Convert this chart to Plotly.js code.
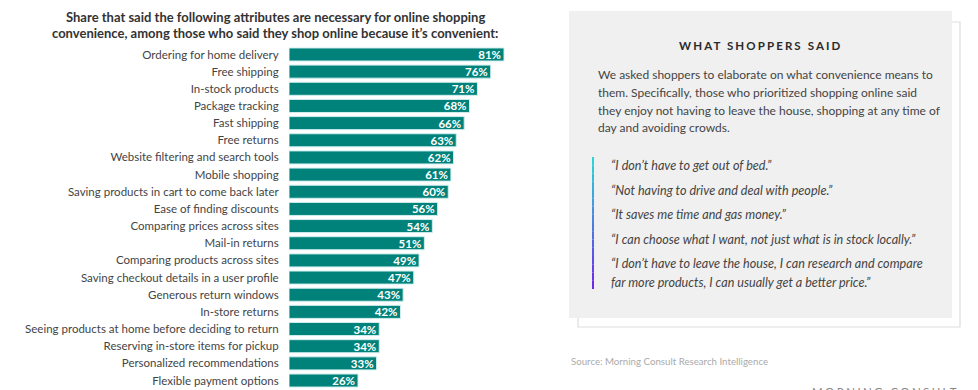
<!DOCTYPE html>
<html>
<head>
<meta charset="utf-8">
<script src="https://cdn.plot.ly/plotly-3.0.1.min.js"></script>
<style>
html,body{margin:0;padding:0;background:#fff;}
#chart{width:978px;height:390px;}
</style>
</head>
<body>
<div id="chart"></div>
<script>
const categories = [
  "Ordering for home delivery",
  "Free shipping",
  "In-stock products",
  "Package tracking",
  "Fast shipping",
  "Free returns",
  "Website filtering and search tools",
  "Mobile shopping",
  "Saving products in cart to come back later",
  "Ease of finding discounts",
  "Comparing prices across sites",
  "Mail-in returns",
  "Comparing products across sites",
  "Saving checkout details in a user profile",
  "Generous return windows",
  "In-store returns",
  "Seeing products at home before deciding to return",
  "Reserving in-store items for pickup",
  "Personalized recommendations",
  "Flexible payment options"
];
const values = [81, 76, 71, 68, 66, 63, 62, 61, 60, 56, 54, 51, 49, 47, 43, 42, 34, 34, 33, 26];
const valueLabels = values.map(v => v + "%");

const chartTitle = ["Share that said the following attributes are necessary for online shopping",
                    "convenience, among those who said they shop online because it’s convenient:"];
const panelHeading = "WHAT SHOPPERS SAID";
const panelParagraph = [
  "We asked shoppers to elaborate on what convenience means to",
  "them. Specifically, those who prioritized shopping online said",
  "they enjoy not having to leave the house, shopping at any time of",
  "day and avoiding crowds."
];
const quotes = [
  "“I don’t have to get out of bed.”",
  "“Not having to drive and deal with people.”",
  "“It saves me time and gas money.”",
  "“I can choose what I want, not just what is in stock locally.”",
  "“I don’t have to leave the house, I can research and compare",
  "far more products, I can usually get a better price.”"
];
const sourceText = "Source: Morning Consult Research Intelligence";
const logoText = "MORNING CONSULT";

const W = 978, H = 390;
const px = x => x / W;
const py = y => 1 - y / H;

const FONT = "Lato, 'Open Sans', sans-serif";

const trace = {
  type: "bar",
  orientation: "h",
  x: values,
  y: categories,
  text: valueLabels,
  textposition: "inside",
  insidetextanchor: "end",
  constraintext: "none",
  textangle: 0,
  texttemplate: "<b>%{text}</b>",
  textfont: {family: FONT, size: 11.5, color: "#ffffff"},
  marker: {color: "#00827a", line: {color: "#cfeeee", width: 1}},
  hoverinfo: "skip",
  cliponaxis: false
};

const annotations = [];
chartTitle.forEach((t, i) => {
  annotations.push({
    xref: "paper", yref: "paper", x: px(275), y: py(17 + i * 16),
    xanchor: "center", yanchor: "middle", showarrow: false,
    text: "<b>" + t + "</b>",
    font: {family: FONT, size: 13, color: "#333333"}
  });
});
annotations.push({
  xref: "paper", yref: "paper", x: px(760), y: py(45),
  xanchor: "center", yanchor: "middle", showarrow: false,
  text: "<b><span style='letter-spacing:2.1px'>" + panelHeading + "</span></b>",
  font: {family: FONT, size: 11.5, color: "#2b2b2b"}
});
panelParagraph.forEach((t, i) => {
  annotations.push({
    xref: "paper", yref: "paper", x: px(596), y: py(74 + i * 18),
    xanchor: "left", yanchor: "middle", showarrow: false,
    text: t,
    font: {family: FONT, size: 12, color: "#444444"}
  });
});
const quoteY = [165, 190, 214, 239, 263, 282];
quotes.forEach((t, i) => {
  annotations.push({
    xref: "paper", yref: "paper", x: px(609), y: py(quoteY[i]),
    xanchor: "left", yanchor: "middle", showarrow: false,
    text: "<i>" + t + "</i>",
    font: {family: FONT, size: 12.6, color: "#444444"}
  });
});
annotations.push({
  xref: "paper", yref: "paper", x: px(569), y: py(361),
  xanchor: "left", yanchor: "middle", showarrow: false,
  text: sourceText,
  font: {family: FONT, size: 9.7, color: "#aaaaaa"}
});
annotations.push({
  xref: "paper", yref: "paper", x: px(961), y: py(383),
  xanchor: "right", yanchor: "top", showarrow: false,
  text: "<span style='letter-spacing:2.4px'>" + logoText + "</span>",
  font: {family: FONT, size: 11.5, color: "#888888"}
});

const shapes = [
  {type: "rect", xref: "paper", yref: "paper", x0: px(578), x1: px(960), y0: py(327), y1: py(22),
   line: {color: "#dddddd", width: 1.2}, fillcolor: "#ffffff", layer: "below"},
  {type: "rect", xref: "paper", yref: "paper", x0: px(569), x1: px(952), y0: py(318), y1: py(11),
   line: {width: 0}, fillcolor: "#f0f0f0", layer: "below"}
];
// gradient vertical rule
const gTop = 157, gBot = 289, nSeg = 16;
const c0 = [46, 212, 212], c1 = [108, 43, 234];
for (let i = 0; i < nSeg; i++) {
  const f = i / (nSeg - 1);
  const c = c0.map((v, k) => Math.round(v + (c1[k] - v) * f));
  shapes.push({
    type: "line", xref: "paper", yref: "paper",
    x0: px(593), x1: px(593),
    y0: py(gTop + (gBot - gTop) * i / nSeg), y1: py(gTop + (gBot - gTop) * (i + 1) / nSeg),
    line: {color: `rgb(${c[0]},${c[1]},${c[2]})`, width: 2}
  });
}

const layout = {
  width: W, height: H,
  margin: {l: 0, r: 0, t: 0, b: 0},
  paper_bgcolor: "#ffffff",
  plot_bgcolor: "rgba(0,0,0,0)",
  showlegend: false,
  bargap: 0.24,
  font: {family: FONT},
  xaxis: {
    domain: [px(289), px(560)],
    range: [0, 102.1],
    visible: false,
    fixedrange: true
  },
  yaxis: {
    domain: [1 - 389.1 / H, 1 - 45.9 / H],
    autorange: "reversed",
    showgrid: false, zeroline: false, showline: false,
    ticks: "outside", ticklen: 7, tickcolor: "rgba(0,0,0,0)",
    tickfont: {family: FONT, size: 11.5, color: "#444444"},
    fixedrange: true
  },
  annotations: annotations,
  shapes: shapes
};

Plotly.newPlot("chart", [trace], layout, {displayModeBar: false, staticPlot: true});
</script>
</body>
</html>
